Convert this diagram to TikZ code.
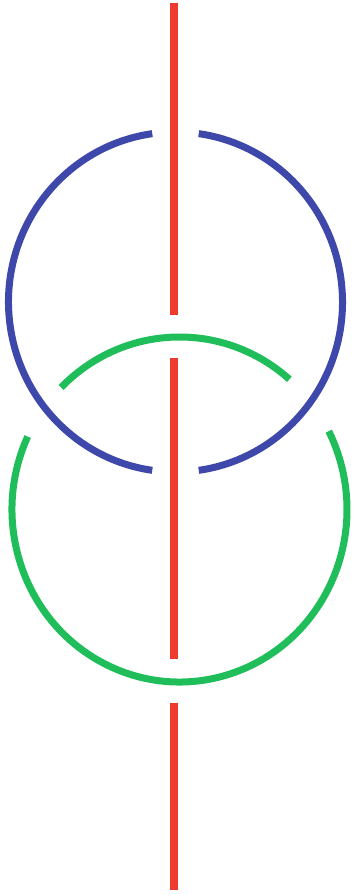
\documentclass[tikz,border=0pt]{standalone}
\usetikzlibrary{calc}
\definecolor{lkred}{HTML}{EE3B30}
\definecolor{lkblue}{HTML}{3E48AA}
\definecolor{lkgreen}{HTML}{20BE5A}
\tikzstyle{lkaxis}=[draw=lkred,line width=8.5pt]
\tikzstyle{lkbluering}=[draw=lkblue,line width=7pt]
\tikzstyle{lkgreenring}=[draw=lkgreen,line width=7pt]

\begin{document}
\begin{tikzpicture}[x=1pt,y=1pt]
    \useasboundingbox (0,0) rectangle (355,894);
    % ---- centres ----
    \coordinate (bc) at (175.5,592);
    \coordinate (gc) at (179.5,384.5);

    % ---- blue ring (gaps where the red axis passes over) ----
    \draw[lkbluering] ($(bc)+(98:167pt and 170pt)$) arc[start angle=98,end angle=262,x radius=167pt,y radius=170pt];
    \draw[lkbluering] ($(bc)+(-82:167pt and 170pt)$) arc[start angle=-82,end angle=82,x radius=167pt,y radius=170pt];

    % ---- green ring (gaps where the blue ring passes over) ----
    \draw[lkgreenring] ($(gc)+(49:167.5pt and 172.5pt)$) arc[start angle=49,end angle=135,x radius=167.5pt,y radius=172.5pt];
    \draw[lkgreenring] ($(gc)+(155:167.5pt and 172.5pt)$) arc[start angle=155,end angle=387,x radius=167.5pt,y radius=172.5pt];

    % ---- red axis ----
    \coordinate (r0) at (174,891);
    \coordinate (r1) at (174,579);
    \coordinate (r2) at (174,536);
    \coordinate (r3) at (174,235);
    \coordinate (r4) at (174,191);
    \coordinate (r5) at (174,4);
    \foreach \a/\b in {r0/r1,r2/r3,r4/r5} {\draw[lkaxis] (\a) -- (\b);}
\end{tikzpicture}
\end{document}
